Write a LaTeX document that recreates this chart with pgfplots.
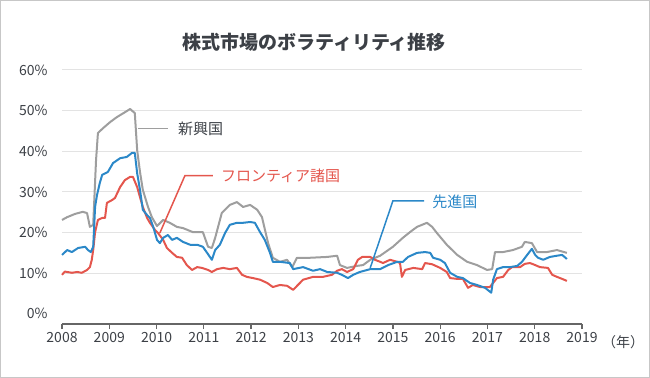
\documentclass[border=0pt]{standalone}
\usepackage{pgfplots}
\pgfplotsset{compat=1.18}
\usepackage{fontspec}
\setmainfont{Noto Sans CJK JP}
\definecolor{cgray}{HTML}{9E9E9E}
\definecolor{cred}{HTML}{E4564D}
\definecolor{cblue}{HTML}{2B88C8}
\definecolor{ctext}{HTML}{3C4046}
\definecolor{cgrid}{HTML}{E3E3E3}
\definecolor{caxis}{HTML}{666666}
\begin{document}
\begin{tikzpicture}
\useasboundingbox (0,0) rectangle (650bp,378bp);
\draw[draw=black!22, line width=1.2bp] (0.6bp,0.6bp) rectangle (649.4bp,377.4bp);
\node[font=\fontsize{19bp}{21bp}\selectfont\bfseries, text=ctext] at (314bp,336bp) {株式市場のボラティリティ推移};
\begin{axis}[
  at={(62bp,54bp)}, anchor=south west,
  scale only axis, width=520bp, height=254bp,
  xmin=2008, xmax=2019, ymin=-2.5, ymax=60,
  axis lines*=left, axis line style={-},
  y axis line style={draw=none},
  x axis line style={caxis, line width=1.8bp},
  xtick={2008,2009,2010,2011,2012,2013,2014,2015,2016,2017,2018,2019},
  xticklabels={2008,2009,2010,2011,2012,2013,2014,2015,2016,2017,2018,2019},
  ytick={10,20,30,40,50,60},
  extra y ticks={0}, extra y tick style={grid=none},
  yticklabel={\pgfmathprintnumber{\tick}\%},
  /pgf/number format/assume math mode=true,
  tick align=outside, major tick length=5bp,
  xtick style={caxis, line width=1.2bp},
  ytick style={draw=none},
  ymajorgrids, major grid style={cgrid, line width=1bp},
  tick label style={font=\fontsize{14bp}{16bp}\selectfont, text=ctext},
  yticklabel style={xshift=-6bp},
  clip=false,
  every axis plot/.append style={line width=2bp, line join=round, no markers},
]
\addplot[cgray] coordinates {
(2008.00,23.1)(2008.11,23.8)(2008.28,24.6)(2008.44,25.1)(2008.53,24.8)(2008.59,21.4)(2008.66,21.9)
(2008.72,37.8)(2008.76,44.5)(2008.87,45.7)(2009.02,47.2)(2009.16,48.4)(2009.33,49.6)(2009.44,50.4)
(2009.54,49.4)(2009.59,40.3)(2009.65,34.9)(2009.71,30.5)(2009.82,26.3)(2009.90,23.8)(2010.01,21.6)
(2010.14,23.1)(2010.28,22.4)(2010.43,21.4)(2010.56,21.1)(2010.77,20.1)(2010.98,20.1)(2011.09,16.5)
(2011.17,16.2)(2011.24,18.7)(2011.38,24.8)(2011.55,26.8)(2011.70,27.5)(2011.83,26.3)(2011.98,26.8)
(2012.13,25.6)(2012.23,23.8)(2012.36,17.4)(2012.46,13.8)(2012.61,12.8)(2012.76,13.3)(2012.87,11.5)
(2012.97,13.8)(2013.25,13.8)(2013.61,14.0)(2013.82,14.3)(2013.88,12.0)(2014.03,11.3)(2014.24,11.8)
(2014.37,12.0)(2014.52,13.3)(2014.73,14.3)(2015.00,16.5)(2015.21,18.7)(2015.36,20.1)(2015.51,21.4)
(2015.72,22.4)(2015.83,21.4)(2015.93,19.9)(2016.14,17.0)(2016.36,14.5)(2016.57,12.8)(2016.78,12.0)
(2016.99,10.8)(2017.10,11.0)(2017.16,15.2)(2017.33,15.2)(2017.54,15.7)(2017.73,16.5)(2017.79,17.7)
(2017.94,17.4)(2018.05,15.2)(2018.26,15.2)(2018.47,15.7)(2018.68,15.0)
};
\addplot[cred] coordinates {
(2008.00,9.6)(2008.06,10.4)(2008.21,10.1)(2008.32,10.3)(2008.42,10.1)(2008.53,10.8)(2008.59,11.5)
(2008.63,13.3)(2008.66,15.7)(2008.70,20.1)(2008.76,23.1)(2008.85,23.6)(2008.91,23.6)(2008.95,27.3)
(2009.06,28.0)(2009.12,28.5)(2009.23,31.2)(2009.33,32.9)(2009.44,33.7)(2009.50,33.7)(2009.59,31.2)
(2009.65,28.7)(2009.71,26.3)(2009.80,23.6)(2009.86,22.4)(2009.97,20.6)(2010.03,19.9)(2010.14,18.2)
(2010.22,16.2)(2010.33,15.0)(2010.43,14.0)(2010.54,13.8)(2010.64,12.0)(2010.75,10.8)(2010.86,11.5)
(2010.96,11.3)(2011.09,10.8)(2011.17,10.3)(2011.28,11.0)(2011.41,11.3)(2011.55,11.0)(2011.70,11.3)
(2011.81,9.6)(2011.91,9.1)(2012.04,8.8)(2012.19,8.4)(2012.34,7.6)(2012.46,6.6)(2012.61,7.1)
(2012.76,6.9)(2012.89,5.9)(2012.99,7.1)(2013.10,8.4)(2013.31,9.1)(2013.52,9.1)(2013.71,9.6)
(2013.82,10.6)(2013.92,11.0)(2014.03,10.3)(2014.16,11.0)(2014.26,13.3)(2014.35,14.0)(2014.52,14.0)
(2014.62,13.3)(2014.73,12.8)(2014.79,12.5)(2014.94,13.3)(2015.09,12.8)(2015.15,12.5)(2015.19,9.1)
(2015.26,10.8)(2015.43,11.3)(2015.62,11.0)(2015.68,12.5)(2015.83,12.2)(2016.00,11.3)(2016.14,10.3)
(2016.21,8.8)(2016.36,8.6)(2016.48,8.6)(2016.59,6.4)(2016.69,7.1)(2016.84,6.6)(2017.05,6.6)
(2017.12,7.6)(2017.20,8.8)(2017.33,9.1)(2017.44,10.8)(2017.52,11.5)(2017.69,11.5)(2017.79,12.3)
(2017.90,12.5)(2018.01,12.0)(2018.11,11.5)(2018.28,11.3)(2018.37,9.6)(2018.47,9.1)(2018.58,8.6)
(2018.68,8.1)
};
\addplot[cblue] coordinates {
(2008.00,14.5)(2008.11,15.7)(2008.21,15.2)(2008.34,16.2)(2008.49,16.5)(2008.55,15.7)(2008.61,15.2)
(2008.66,16.5)(2008.70,26.3)(2008.74,29.2)(2008.80,32.2)(2008.85,34.2)(2008.97,34.9)(2009.08,37.1)
(2009.23,38.3)(2009.37,38.6)(2009.48,39.6)(2009.54,39.6)(2009.59,34.6)(2009.65,30.5)(2009.71,25.6)
(2009.80,24.3)(2009.86,23.6)(2009.93,21.4)(2010.01,18.2)(2010.07,17.4)(2010.14,18.7)(2010.24,19.4)
(2010.33,18.2)(2010.43,18.7)(2010.56,17.7)(2010.71,17.0)(2010.86,17.0)(2010.98,16.5)(2011.07,15.0)
(2011.17,13.3)(2011.24,15.7)(2011.34,17.0)(2011.45,19.9)(2011.55,21.9)(2011.70,22.4)(2011.83,22.4)
(2011.98,22.6)(2012.08,22.4)(2012.19,20.1)(2012.29,18.2)(2012.40,15.0)(2012.46,12.8)(2012.61,12.8)
(2012.82,12.5)(2012.89,11.0)(2013.10,11.5)(2013.31,10.6)(2013.46,11.0)(2013.61,10.3)(2013.82,10.1)
(2013.92,9.6)(2014.05,8.8)(2014.16,9.6)(2014.30,10.3)(2014.52,11.0)(2014.73,11.0)(2014.90,12.0)
(2015.09,12.8)(2015.21,12.8)(2015.32,14.0)(2015.51,15.0)(2015.68,15.2)(2015.79,15.0)(2015.85,13.8)
(2016.00,13.3)(2016.10,12.5)(2016.21,10.1)(2016.36,9.1)(2016.48,8.8)(2016.63,7.6)(2016.78,7.1)
(2016.95,6.4)(2017.08,5.2)(2017.12,8.4)(2017.20,11.0)(2017.33,11.5)(2017.48,11.5)(2017.63,11.8)
(2017.73,12.8)(2017.84,14.5)(2017.94,16.0)(2018.01,14.5)(2018.07,13.8)(2018.18,13.3)(2018.32,14.0)
(2018.47,14.3)(2018.58,14.5)(2018.68,13.5)
};
% annotations
\draw[cgray, line width=1.5bp] (axis cs:2009.61,45.6) -- (axis cs:2010.24,45.6);
\node[anchor=west, inner sep=0pt, font=\fontsize{15bp}{17bp}\selectfont, text=ctext] at (axis cs:2010.45,45.6) {新興国};
\draw[cred, line width=1.5bp] (axis cs:2010.07,19.9) -- (axis cs:2010.60,34.0) -- (axis cs:2011.19,34.0);
\node[anchor=west, inner sep=0pt, font=\fontsize{15bp}{17bp}\selectfont, text=cred] at (axis cs:2011.36,34.0) {フロンティア諸国};
\draw[cblue, line width=1.5bp] (axis cs:2014.52,11.3) -- (axis cs:2015.00,27.8) -- (axis cs:2015.66,27.8);
\node[anchor=west, inner sep=0pt, font=\fontsize{15bp}{17bp}\selectfont, text=cblue] at (axis cs:2015.83,27.6) {先進国};
\end{axis}
\node[anchor=west, inner sep=0pt, font=\fontsize{14bp}{16bp}\selectfont, text=ctext] at (602bp,36bp) {（年）};
\end{tikzpicture}
\end{document}
